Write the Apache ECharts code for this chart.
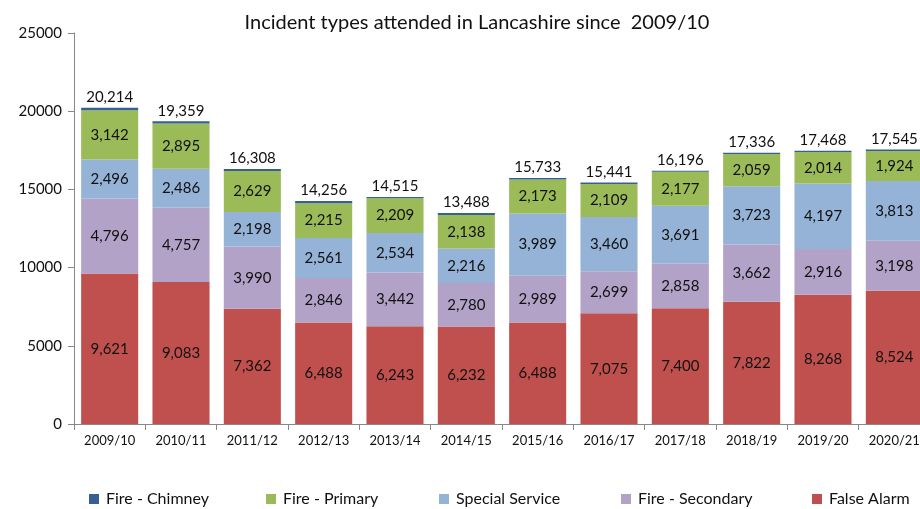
<!DOCTYPE html>
<html><head><meta charset="utf-8">
<script src="https://cdn.jsdelivr.net/npm/echarts@6/dist/echarts.min.js"></script>
<style>html,body{margin:0;padding:0;background:#fff}#c{width:920px;height:509px}</style>
</head><body><div id="c"></div>
<script>
var categories = ['2009/10','2010/11','2011/12','2012/13','2013/14','2014/15','2015/16','2016/17','2017/18','2018/19','2019/20','2020/21'];
var falseAlarm = [9621,9083,7362,6488,6243,6232,6488,7075,7400,7822,8268,8524];
var fireSecondary = [4796,4757,3990,2846,3442,2780,2989,2699,2858,3662,2916,3198];
var specialService = [2496,2486,2198,2561,2534,2216,3989,3460,3691,3723,4197,3813];
var firePrimary = [3142,2895,2629,2215,2209,2138,2173,2109,2177,2059,2014,1924];
var fireChimney = [159,138,129,146,87,122,94,98,70,70,73,86];
var totals = [20214,19359,16308,14256,14515,13488,15733,15441,16196,17336,17468,17545];
var yTicks = [0,5000,10000,15000,20000,25000];
var legendNames = ['Fire - Chimney','Fire - Primary','Special Service','Fire - Secondary','False Alarm'];

var FONT = 'Lato';
function fmt(v){ return v.toLocaleString('en-US'); }
var inLabel = {show:true, position:'inside', color:'#111', fontFamily:FONT, fontSize:15, formatter:function(p){return fmt(p.value);}};
function s(name, data, color, extra){
  var o = {name:name, type:'bar', stack:'t', data:data, itemStyle:{color:color}, barCategoryGap:'20%', label:inLabel, emphasis:{disabled:true}};
  for (var k in extra) o[k]=extra[k];
  return o;
}
var legendLefts = [84, 261, 434, 616, 807];
var legends = legendNames.map(function(n,i){
  return {data:[n], left:legendLefts[i], top:486, itemWidth:10, itemHeight:10, icon:'rect', itemGap:0,
    textStyle:{fontFamily:FONT, fontSize:16, color:'#111', padding:[0,0,0,2]}};
});
var chart = echarts.init(document.getElementById('c'));
chart.setOption({
  animation:false,
  title:{text:'Incident types attended in Lancashire since  2009/10', left:472, textAlign:'center', top:8, textStyle:{fontFamily:FONT, fontSize:20, fontWeight:'normal', color:'#111'}},
  legend:legends,
  grid:{left:74, width:856, top:33, bottom:85, containLabel:false, outerBoundsMode:'none'},
  xAxis:{type:'category', data:categories, axisLine:{lineStyle:{color:'#888'}}, axisTick:{show:true, length:6, lineStyle:{color:'#888'}},
    axisLabel:{fontFamily:FONT, fontSize:13, color:'#111', margin:10}},
  yAxis:{type:'value', min:yTicks[0], max:yTicks[yTicks.length-1], interval:5000, splitLine:{show:false},
    axisLine:{show:true, lineStyle:{color:'#888'}}, axisTick:{show:true, length:6, lineStyle:{color:'#888'}},
    axisLabel:{fontFamily:FONT, fontSize:15, color:'#111', margin:12, formatter:function(v){return String(v);}}},
  series:[
    s('False Alarm', falseAlarm, '#c0504d', {}),
    s('Fire - Secondary', fireSecondary, '#b3a2c7', {}),
    s('Special Service', specialService, '#95b3d7', {}),
    s('Fire - Primary', firePrimary, '#9bbb59', {}),
    s('Fire - Chimney', fireChimney, '#376092', {label:{show:true, position:'top', distance:3, color:'#111', fontFamily:FONT, fontSize:15, formatter:function(p){return fmt(totals[p.dataIndex]);}}})
  ]
});
</script></body></html>
